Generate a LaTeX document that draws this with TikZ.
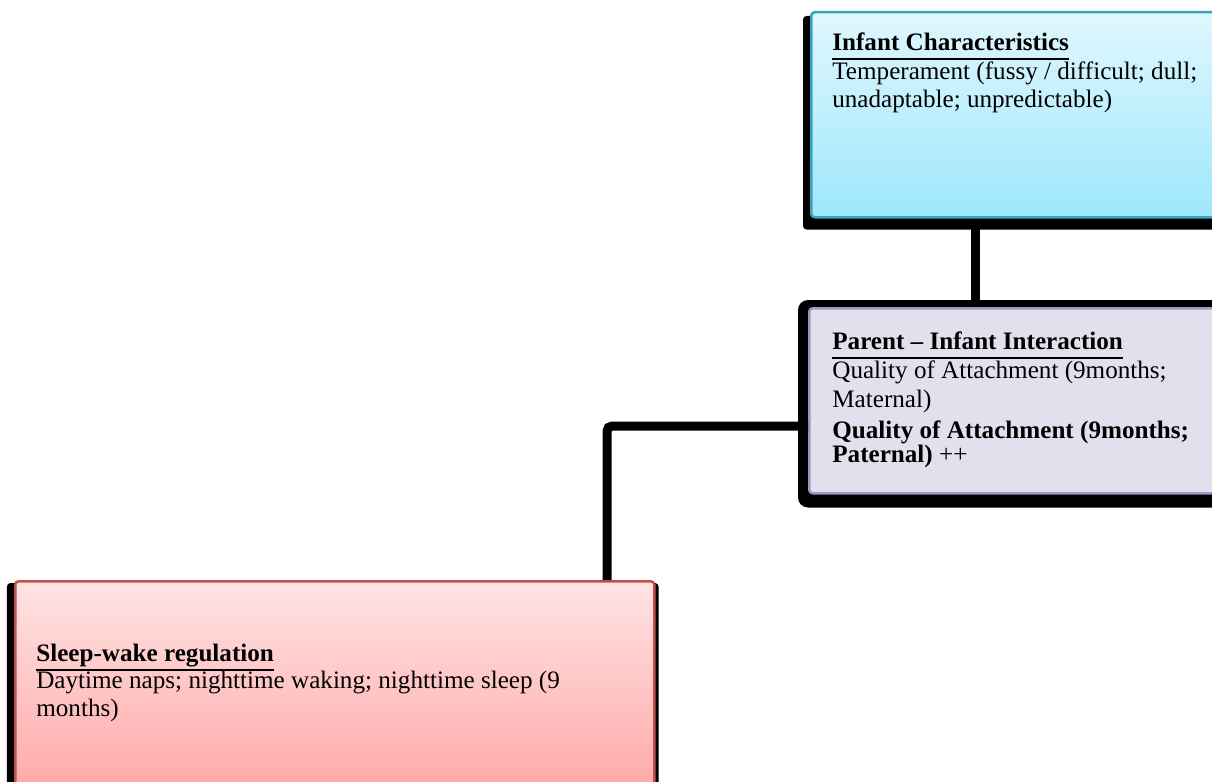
\documentclass[tikz,border=0pt]{standalone}
\usepackage{fontspec}
\setmainfont{Liberation Serif}
\usetikzlibrary{positioning,backgrounds}

\definecolor{infantTop}{HTML}{E0F7FE}
\definecolor{infantBottom}{HTML}{9EE7FB}
\definecolor{infantLine}{HTML}{3CA2C2}
\definecolor{parentFill}{HTML}{E4DFEC}
\definecolor{parentLine}{HTML}{A294C6}
\definecolor{sleepTop}{HTML}{FFE3E3}
\definecolor{sleepBottom}{HTML}{FFA3A3}
\definecolor{sleepLine}{HTML}{C0504D}

% bold heading with a rule under it
\newcommand\headline[1]{\setbox0\hbox{\textbf{#1}}\rlap{\rule[-5.4pt]{\wd0}{1.1pt}}\box0}

\begin{document}
\begin{tikzpicture}[
    x=0.2mm, y=-0.2mm,
    font=\fontsize{14.3}{16.3}\selectfont,
    box/.style={draw, rounded corners=2pt, anchor=north west, inner sep=0pt, line width=0.5mm},
    txt/.style={anchor=base west, align=left, inner sep=0pt},
    link/.style={line width=1.8mm, rounded corners=1mm}
  ]
    \useasboundingbox (0,0) rectangle (1212,782);
    \clip (0,0) rectangle (1212,782);

    \node[box, draw=infantLine, top color=infantTop, bottom color=infantBottom,
      minimum width=86mm, minimum height=41mm] (infant) at (810,11) {};
    \node[box, draw=parentLine, fill=parentFill,
      minimum width=90mm, minimum height=37mm] (parent) at (808,307) {};
    \node[box, draw=sleepLine, top color=sleepTop, bottom color=sleepBottom,
      minimum width=127.8mm, minimum height=46mm] (sleep) at (14,580) {};

    % text nodes sit on the baseline of their last line
    \node[txt] (infanttxt) at (832,108) {\headline{Infant Characteristics}\\
      Temperament (fussy / difficult; dull;\\unadaptable; unpredictable)};
    \node[txt] (parenttxt) at (832,407) {\headline{Parent -- Infant Interaction}\\
      Quality of Attachment (9months;\\Maternal)};
    \node[txt, font=\fontsize{14.3}{13.6}\selectfont] (parentbold) at (832,462)
      {\textbf{Quality of Attachment (9months;}\\\textbf{Paternal)} ++};
    \node[txt, font=\fontsize{14.3}{15.4}\selectfont] (sleeptxt) at (36,716) {\headline{Sleep-wake regulation}\\
      Daytime naps; nighttime waking; nighttime sleep (9\\months)};

    \draw[link] ([xshift=33mm]infant.south west) -- ([xshift=33mm]infant.south west |- parent.north);
    \draw[link] ([yshift=-23.8mm]parent.north west) -| ([xshift=118.6mm]sleep.north west);

    \begin{scope}[on background layer]
      \fill[black, rounded corners=2pt] ([xshift=-1.4mm, yshift=-1mm]infant.north west)
        rectangle ([yshift=-2.2mm]infant.south east);
      \fill[black, rounded corners=2mm] ([xshift=-2mm, yshift=1.4mm]parent.north west)
        rectangle ([xshift=2mm, yshift=-2.6mm]parent.south east);
      \fill[black, rounded corners=2pt] ([xshift=-1.4mm, yshift=-0.6mm]sleep.north west)
        rectangle ([xshift=0.6mm, yshift=-1mm]sleep.south east);
    \end{scope}
  \end{tikzpicture}
\end{document}
